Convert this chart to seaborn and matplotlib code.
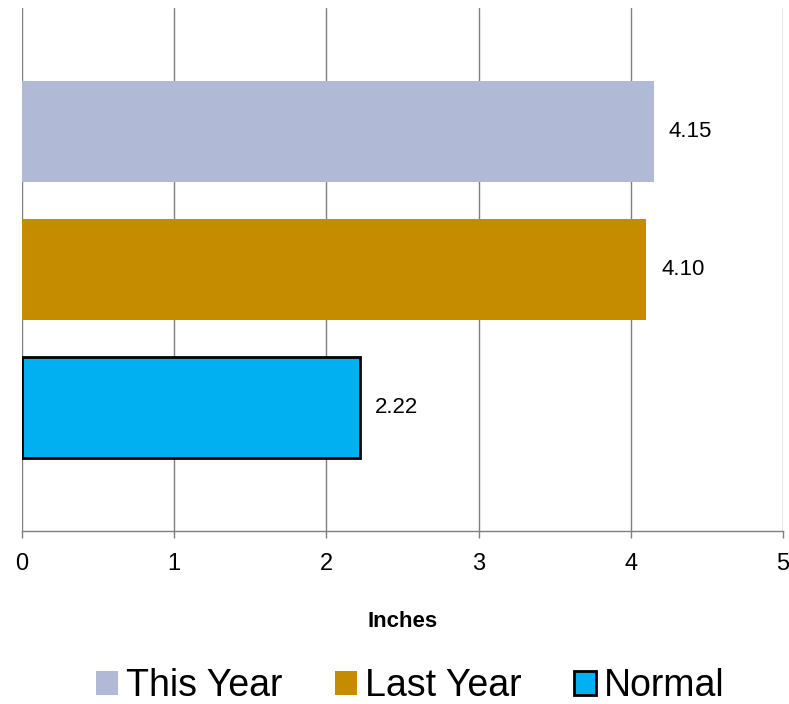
import matplotlib
matplotlib.use("Agg")
import matplotlib.pyplot as plt
import matplotlib.patches as mpatches
import seaborn as sns

categories = ["This Year", "Last Year", "Normal"]
values = [4.15, 4.10, 2.22]
labels = ["4.15", "4.10", "2.22"]
colors = ["#B0B9D6", "#C68C00", "#00B0F0"]

sns.set_style("white")
plt.rcParams["font.family"] = ["Liberation Sans", "DejaVu Sans"]
plt.rcParams["text.color"] = "black"
plt.rcParams["xtick.color"] = "black"
plt.rcParams["axes.labelcolor"] = "black"

fig = plt.figure(figsize=(7.89, 7.04), dpi=100)
ax = fig.add_axes([22 / 789, 1 - 531 / 704, (783 - 22) / 789, (531 - 8) / 704])

sns.barplot(x=values, y=categories, hue=categories, palette=colors,
            orient="h", width=0.73, legend=False, ax=ax, saturation=1)

for i, bar in enumerate(ax.patches):
    if categories[i] == "Normal":
        bar.set_edgecolor("black")
        bar.set_linewidth(2)
    else:
        bar.set_edgecolor("none")

for cont, lab in zip(ax.containers, labels):
    ax.bar_label(cont, labels=[lab], padding=11, fontsize=16, color="black")

ax.set_xlim(0, 5)
ax.set_ylim(2.895, -0.895)
ax.set_xticks([0, 1, 2, 3, 4, 5])
ax.set_yticks([])
ax.set_ylabel("")
ax.xaxis.grid(True, color="#7f7f7f", linewidth=1)
ax.set_axisbelow(True)
for s in ["top", "right", "left"]:
    ax.spines[s].set_visible(False)
ax.spines["bottom"].set_color("#7f7f7f")
ax.spines["bottom"].set_linewidth(1)
ax.tick_params(axis="x", bottom=True, length=5, width=1, color="#7f7f7f",
               labelsize=17, pad=11, labelcolor="black")
ax.set_xlabel("Inches", fontsize=16, fontweight="bold", labelpad=26, color="black")

handles = []
for c, col in zip(categories, colors):
    ec = "black" if c == "Normal" else "none"
    handles.append(mpatches.Patch(facecolor=col, edgecolor=ec, linewidth=2, label=c))
fig.legend(handles=handles, loc="center", bbox_to_anchor=(410 / 789, 1 - 686 / 704),
           ncol=3, frameon=False, fontsize=27, handlelength=0.6, handleheight=0.6,
           handletextpad=0.2, columnspacing=1.4, borderaxespad=0, borderpad=0,
           labelcolor="black")

fig.savefig("out.png", dpi=100)
